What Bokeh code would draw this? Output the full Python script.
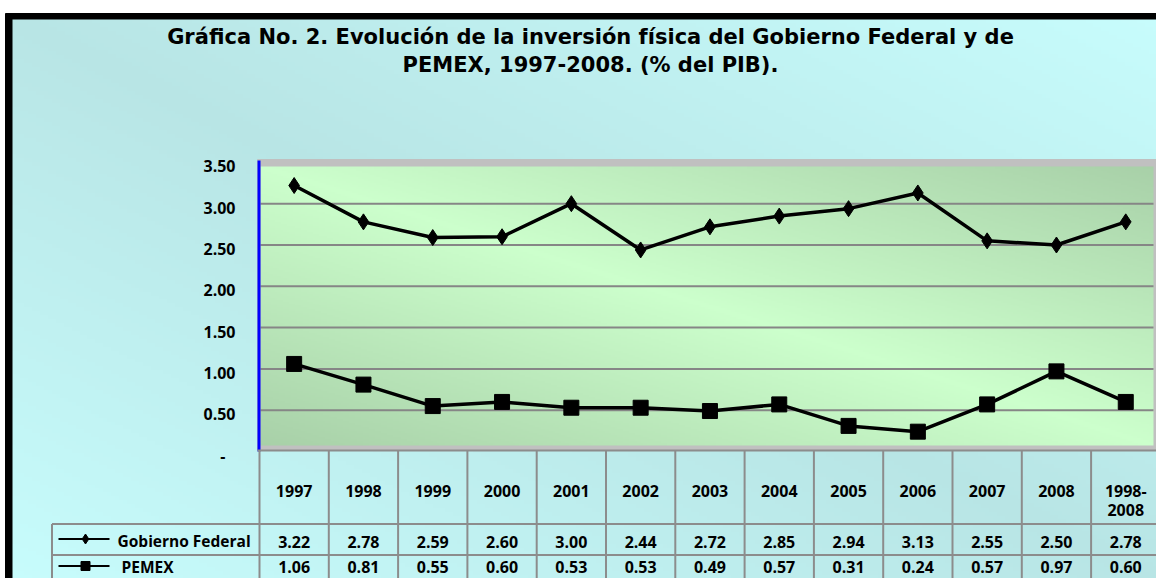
import numpy as np
from bokeh.plotting import figure
from bokeh.models import Range1d
from bokeh.core.properties import value
from bokeh.embed import file_html
from bokeh.resources import INLINE

# ---------------- data ----------------
title_lines = [
    "Gráfica No. 2. Evolución de la inversión física del Gobierno Federal y de",
    "PEMEX, 1997-2008. (% del PIB).",
]
categories = ["1997", "1998", "1999", "2000", "2001", "2002", "2003", "2004",
              "2005", "2006", "2007", "2008", "1998-\n2008"]
series_names = ["Gobierno Federal", "PEMEX"]
gobierno = [3.22, 2.78, 2.59, 2.60, 3.00, 2.44, 2.72, 2.85, 2.94, 3.13, 2.55, 2.50, 2.78]
pemex = [1.06, 0.81, 0.55, 0.60, 0.53, 0.53, 0.49, 0.57, 0.31, 0.24, 0.57, 0.97, 0.60]
y_ticks = [0, 0.5, 1.0, 1.5, 2.0, 2.5, 3.0, 3.5]
y_tick_labels = ["-", "0.50", "1.00", "1.50", "2.00", "2.50", "3.00", "3.50"]

# ---------------- layout (pixels) ----------------
W, H = 1156, 578
CELL_L, CELL_W = 259.0, 69.3     # left edge of first category cell, cell width
Y0, PXV = 451.0, 82.6            # pixel row of value 0, pixels per unit


def X(px):
    return (px - CELL_L) / CELL_W - 0.5


def Y(py):
    return (Y0 - py) / PXV


FONT = value("Open Sans")
TFONT = value("DejaVu Sans")
GRID_C = "#868686"
TABLE_C = "#8c8c8c"

n = len(categories)
xs = list(range(n))

p = figure(width=W, height=H,
           x_range=Range1d(X(0), X(W)),
           y_range=Range1d(Y(H), Y(0)),
           x_axis_location=None, y_axis_location=None,
           toolbar_location=None, output_backend="svg",
           min_border=0, title=None,
           background_fill_color="white", border_fill_color="white")
p.outline_line_color = None
p.grid.visible = False


def diag_gradient(nx, ny, c_diag, c_corner):
    u = (np.arange(nx) + 0.5) / nx
    v = 1 - (np.arange(ny) + 0.5) / ny      # distance from top, row 0 = bottom
    t = np.abs(u[None, :] - v[:, None])
    c_diag = np.array(c_diag, dtype=float)
    c_corner = np.array(c_corner, dtype=float)
    col = c_diag + (c_corner - c_diag) * t[..., None]
    img = np.empty((ny, nx), dtype=np.uint32)
    view = img.view(dtype=np.uint8).reshape((ny, nx, 4))
    view[..., 0:3] = np.clip(np.round(col), 0, 255).astype(np.uint8)
    view[..., 3] = 255
    return img


# outer black frame + cyan chart area
p.quad(left=X(5), right=X(W), top=Y(13), bottom=Y(H), color="black")
bg = diag_gradient(288, 142, (184, 229, 229), (199, 252, 252))
p.image_rgba(image=[bg], x=X(12), y=Y(H), dw=X(W) - X(12), dh=Y(19) - Y(H))

# plot area: gray border + green gradient
p.quad(left=X(257), right=X(1160), top=Y(159), bottom=Y(449), color="#c0c0c0")
green = diag_gradient(447, 140, (204, 255, 204), (168, 208, 168))
p.image_rgba(image=[green], x=X(260), y=Y(445), dw=X(1153) - X(260), dh=Y(166) - Y(445))

inner_ticks = [t for t in y_ticks if 0 < t < max(y_ticks)]
p.segment(x0=[X(260)] * len(inner_ticks), x1=[X(1153)] * len(inner_ticks),
          y0=inner_ticks, y1=inner_ticks, line_color=GRID_C, line_width=2)
p.segment(x0=[X(258.5)], x1=[X(258.5)], y0=[Y(451)], y1=[Y(160)], line_color="blue", line_width=3)

# y tick labels
p.text(x=[X(235)] * len(y_ticks), y=y_ticks, text=y_tick_labels,
       x_offset=[-10 if s == "-" else 0 for s in y_tick_labels], y_offset=4,
       text_align="right", text_baseline="middle",
       text_font=FONT, text_font_style="bold", text_font_size="16px", text_color="black")

# data table grid
edges = [k - 0.5 for k in range(n + 1)]
p.segment(x0=[X(257)], x1=[edges[-1]], y0=[Y(450)], y1=[Y(450)], line_color=TABLE_C, line_width=2)
p.segment(x0=edges, x1=edges, y0=[Y(450)] * len(edges), y1=[Y(H)] * len(edges),
          line_color=TABLE_C, line_width=2)
p.segment(x0=[X(51.5)] * 2, x1=[edges[-1]] * 2, y0=[Y(523.5), Y(554.5)], y1=[Y(523.5), Y(554.5)],
          line_color=TABLE_C, line_width=2)
p.segment(x0=[X(51.5)], x1=[X(51.5)], y0=[Y(523.5)], y1=[Y(H)], line_color=TABLE_C, line_width=2)

# series lines and markers
p.line(xs, gobierno, line_color="black", line_width=3.5)
p.scatter(xs, gobierno, marker="diamond", size=16, fill_color="black", line_color="black")
p.line(xs, pemex, line_color="black", line_width=3.5)
p.scatter(xs, pemex, marker="square", size=15, fill_color="black", line_color="black")

# table header (years)
first = [c.split("\n")[0] for c in categories]
p.text(x=xs, y=[Y(490)] * n, text=first, text_align="center", text_baseline="middle",
       text_font=FONT, text_font_style="bold", text_font_size="16px", text_color="black")
sec_x = [i for i, c in enumerate(categories) if "\n" in c]
sec_t = [categories[i].split("\n")[1] for i in sec_x]
p.text(x=sec_x, y=[Y(509)] * len(sec_x), text=sec_t, text_align="center", text_baseline="middle",
       text_font=FONT, text_font_style="bold", text_font_size="16px", text_color="black")

# table values
for vals, cy in ((gobierno, 541.5), (pemex, 566.5)):
    p.text(x=xs, y=[Y(cy)] * n, text=[f"{v:.2f}" for v in vals],
           text_align="center", text_baseline="middle",
           text_font=FONT, text_font_style="bold", text_font_size="16px", text_color="black")

# legend keys in table
key_y = [Y(538.5), Y(565.5)]
p.segment(x0=[X(58)] * 2, x1=[X(109)] * 2, y0=key_y, y1=key_y, line_color="black", line_width=2)
p.scatter([X(85)], [key_y[0]], marker="diamond", size=10, color="black")
p.scatter([X(85)], [key_y[1]], marker="square", size=9, color="black")
p.text(x=[X(117), X(121)], y=[Y(540), Y(566.5)], text=series_names,
       text_align="left", text_baseline="middle",
       text_font=FONT, text_font_style="bold", text_font_size="15.5px", text_color="black")

# title
p.text(x=[X(590)] * 2, y=[Y(36), Y(64)], text=title_lines,
       text_align="center", text_baseline="middle",
       text_font=TFONT, text_font_style="bold", text_font_size="21px", text_color="black")

open("out.html", "w").write(file_html(p, INLINE))
